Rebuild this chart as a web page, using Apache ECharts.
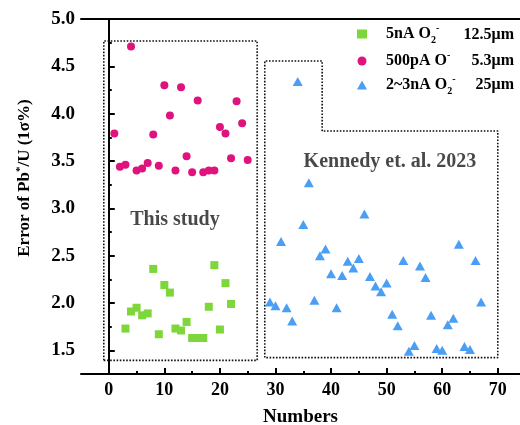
<!DOCTYPE html>
<html><head><meta charset="utf-8">
<script src="https://cdn.jsdelivr.net/npm/echarts@6/dist/echarts.min.js"></script>
<style>html,body{margin:0;padding:0;background:#fff}#c{width:520px;height:425px}</style>
</head><body><div id="c"></div>
<script>
// ---- data ----
const seriesNames = ['5nA O2-', '500pA O-', '2~3nA O2-'];
const spotSizes = ['12.5μm', '5.3μm', '25μm'];
const greenX = [3,4,5,6,7,8,9,10,11,12,13,14,15,16,17,18,19,20,21,22];
const greenY = [1.73,1.91,1.95,1.87,1.89,2.36,1.67,2.19,2.11,1.73,1.71,1.80,1.63,1.63,1.63,1.96,2.40,1.72,2.21,1.99];
const pinkX = [1,2,3,4,5,6,7,8,9,10,11,12,13,14,15,16,17,18,19,20,21,22,23,24,25];
const pinkY = [3.79,3.44,3.46,4.71,3.40,3.42,3.48,3.78,3.45,4.30,3.98,3.40,4.28,3.55,3.38,4.14,3.38,3.40,3.40,3.86,3.79,3.53,4.13,3.90,3.51];
const blueX = [29,30,31,32,33,34,35,36,37,38,39,40,41,42,43,44,45,46,47,48,49,50,51,52,53,54,55,56,57,58,59,60,61,62,63,64,65,66,67];
const blueY = [2.01,1.97,2.65,1.95,1.81,4.34,2.83,3.27,2.03,2.50,2.57,2.31,1.95,2.29,2.44,2.37,2.47,2.94,2.28,2.18,2.12,2.21,1.88,1.76,2.45,1.49,1.55,2.39,2.27,1.87,1.52,1.50,1.77,1.84,2.62,1.54,1.51,2.45,2.01];
const xTicks = [0,10,20,30,40,50,60,70];
const xMinorTicks = [5,15,25,35,45,55,65];
const yTicks = [1.5,2.0,2.5,3.0,3.5,4.0,4.5,5.0];
const yMinorTicks = [1.25,1.75,2.25,2.75,3.25,3.75,4.25,4.75];
const boxStudyX = [-0.9, 26.7, 26.7, -0.9, -0.9];
const boxStudyY = [1.394, 1.394, 4.768, 4.768, 1.394];
const boxKennedyX = [28.07, 28.07, 38.4, 38.4, 70.0, 70.0, 28.07];
const boxKennedyY = [1.423, 4.556, 4.556, 3.817, 3.817, 1.423, 1.423];
const annotTexts = ['This study', 'Kennedy et. al. 2023'];
const annotX = [11.9, 50.6];
const annotY = [2.88, 3.49];

const FONT = '"Liberation Serif","Times New Roman",serif';
const colors = ['#7dd63a', '#e0127c', '#4a9ff5'];
const zipXY = (xs, ys) => xs.map((x, i) => [x, ys[i]]);

const legendRich = {
  t: {fontFamily: FONT, fontWeight: 'bold', fontSize: 16, color: '#000', lineHeight: 22},
  sub: {fontFamily: FONT, fontWeight: 'bold', fontSize: 10, color: '#000', lineHeight: 10, verticalAlign: 'bottom'},
  sup: {fontFamily: FONT, fontWeight: 'bold', fontSize: 10, color: '#000', lineHeight: 10, verticalAlign: 'top'}
};
const legendFmt = {
  '5nA O2-': '{t|5nA O}{sub|2}{sup|-}',
  '500pA O-': '{t|500pA O}{sup|-}',
  '2~3nA O2-': '{t|2~3nA O}{sub|2}{sup|-}'
};

const chart = echarts.init(document.getElementById('c'), null, {renderer: 'canvas'});
const axisLineStyle = {color: '#000', width: 2};
const labelStyle = {fontFamily: FONT, fontWeight: 'bold', fontSize: 18, color: '#000'};

const boxSeries = (xs, ys) => ({
  type: 'line', data: zipXY(xs, ys), symbol: 'none', silent: true, z: 1,
  lineStyle: {color: '#111', width: 1.6, type: [1.6, 1.6]}
});

chart.setOption({
  animation: false,
  backgroundColor: '#fff',
  grid: {left: 81, right: 0, top: 19, bottom: 51, containLabel: false, outerBoundsMode: 'none'},
  legend: {
    data: seriesNames, orient: 'vertical', left: 352, top: 18, itemGap: 5,
    itemWidth: 10, itemHeight: 9,
    formatter: n => legendFmt[n],
    textStyle: {rich: legendRich, padding: [0, 0, 0, 14]}
  },
  xAxis: [
    {type: 'value', min: -5, max: 74, position: 'bottom',
     axisLine: {lineStyle: axisLineStyle},
     axisTick: {inside: true, length: 6, lineStyle: {width: 2, color: '#000'}, customValues: xTicks},
     axisLabel: Object.assign({customValues: xTicks, margin: 7}, labelStyle),
     splitLine: {show: false},
     name: 'Numbers', nameLocation: 'middle', nameGap: 34,
     nameTextStyle: {fontFamily: FONT, fontWeight: 'bold', fontSize: 19, color: '#000'}},
    {type: 'value', min: -5, max: 74, position: 'bottom',
     axisLine: {show: false},
     axisTick: {inside: true, length: 3, lineStyle: {width: 2, color: '#000'}, customValues: xMinorTicks},
     axisLabel: {show: false}, splitLine: {show: false}},
    {type: 'value', min: -5, max: 74, position: 'top',
     axisLine: {lineStyle: axisLineStyle}, axisTick: {show: false},
     axisLabel: {show: false}, splitLine: {show: false}}
  ],
  yAxis: [
    {type: 'value', min: 1.25, max: 5, position: 'left',
     axisLine: {lineStyle: axisLineStyle},
     axisTick: {inside: true, length: 6, lineStyle: {width: 2, color: '#000'}, customValues: yTicks},
     axisLabel: Object.assign({customValues: yTicks, margin: 6, formatter: v => v.toFixed(1)}, labelStyle, {fontSize: 19}),
     splitLine: {show: false}},
    {type: 'value', min: 1.25, max: 5, position: 'left',
     axisLine: {show: false},
     axisTick: {inside: true, length: 3, lineStyle: {width: 2, color: '#000'}, customValues: yMinorTicks},
     axisLabel: {show: false}, splitLine: {show: false}}
  ],
  series: [
    {name: seriesNames[0], type: 'scatter', symbol: 'rect', symbolSize: 8, z: 3,
     itemStyle: {color: colors[0], opacity: 1}, data: zipXY(greenX, greenY)},
    {name: seriesNames[1], type: 'scatter', symbol: 'circle', symbolSize: 8, z: 3,
     itemStyle: {color: colors[1], opacity: 1}, data: zipXY(pinkX, pinkY)},
    {name: seriesNames[2], type: 'scatter', symbol: 'triangle', symbolSize: [10, 9], z: 3,
     itemStyle: {color: colors[2], opacity: 1}, data: zipXY(blueX, blueY)},
    boxSeries(boxStudyX, boxStudyY),
    boxSeries(boxKennedyX, boxKennedyY),
    {type: 'scatter', symbolSize: 0, silent: true, z: 4,
     data: annotX.map((x, i) => [x, annotY[i], annotTexts[i]]),
     label: {show: true, position: 'inside', formatter: p => p.data[2],
             fontFamily: FONT, fontWeight: 'bold', fontSize: 20, color: '#1a1a1a'}}
  ],
  graphic: [
    {type: 'text', x: 25, y: 178, rotation: Math.PI / 2,
     style: {text: '{a|Error of Pb}{s|*}{a|/U (1σ%)}', align: 'center', verticalAlign: 'middle',
             rich: {a: {fontFamily: FONT, fontWeight: 'bold', fontSize: 17, color: '#000', lineHeight: 20},
                    s: {fontFamily: FONT, fontWeight: 'bold', fontSize: 11, color: '#000', lineHeight: 10, verticalAlign: 'top'}}}},
    ...spotSizes.map((s, i) => ({
      type: 'text', x: 514, y: [35, 61, 85][i],
      style: {text: s, align: 'right', verticalAlign: 'middle',
              fontFamily: FONT, fontWeight: 'bold', fontSize: 16, fill: '#000'}
    }))
  ]
});
</script></body></html>
